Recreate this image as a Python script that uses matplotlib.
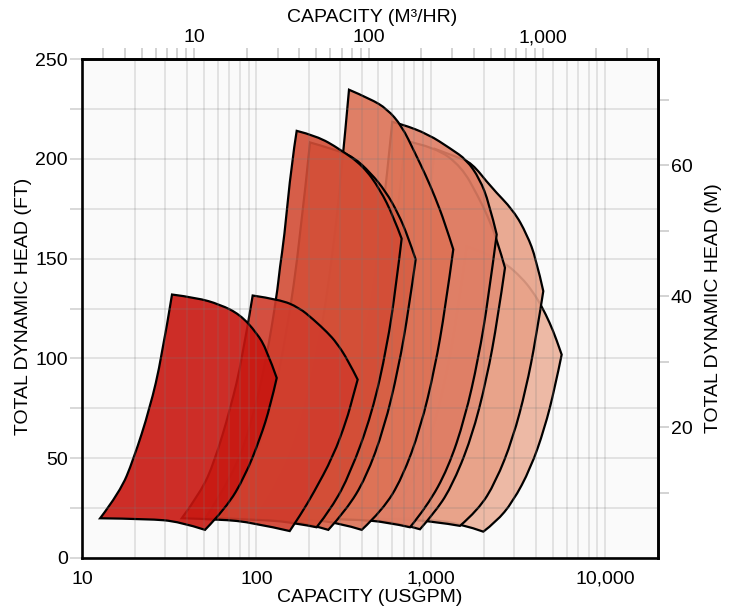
import matplotlib
matplotlib.use("Agg")
import numpy as np
import matplotlib.pyplot as plt
from matplotlib.path import Path
from matplotlib.patches import PathPatch
from matplotlib.colors import to_rgba
from matplotlib.ticker import FixedLocator, NullFormatter, FuncFormatter

plt.rcParams['font.family'] = ['Liberation Sans', 'DejaVu Sans']
plt.rcParams['font.size'] = 14

GPM_PER_M3H = 4.403
FT_PER_M = 3.2808

# Pump envelopes, (USGPM, ft), traced from the bottom-left
# corner: left edge up, top edge across, right edge down, bottom edge back.
# envN_c holds the index of the four corners (bottom-left, top-left, right, bottom-right).
env1_q = [12.7, 16.5, 19.7, 24.5, 28.6, 32.8, 45.4, 61.8, 80.4, 100.3, 114.4, 130.6,
          120, 105, 86, 67, 50.7, 36.4, 24]
env1_h = [19.9, 33, 49.2, 75.1, 100.2, 132, 130.4, 127, 122, 112.8, 104.4, 90.2,
          76, 60, 41, 25, 14.1, 18.2, 19.6]
env1_c = [0, 5, 11, 16]

env2_q = [37.3, 48, 57.3, 71, 83, 95.1, 136, 175, 212, 255, 288, 335, 380,
          355, 329, 275, 212, 180, 155, 96, 62]
env2_h = [19.9, 33, 48, 75, 100, 131.5, 129.5, 125.5, 119.5, 113, 107.8, 99, 89.4,
          80, 69.3, 50.9, 32.5, 22, 13.5, 17.7, 19.4]
env2_c = [0, 5, 12, 18]

env3_q = [51, 74, 94, 114, 130.6, 136.4, 143.8, 159, 170, 221, 301, 409, 510, 608, 679,
          630, 560, 460, 345, 270, 221, 170, 110]
env3_h = [20, 42, 68, 100, 131.2, 146.2, 159.6, 198, 214, 211.5, 204.8, 196.4, 184.7, 171.3, 160,
          136, 106, 72.6, 42.5, 25, 15.4, 17.4, 19.3]
env3_c = [0, 8, 14, 20]

env4_q = [62.8, 90, 120, 150, 178, 202.6, 280, 358.6, 450, 550, 650, 740, 817,
          747, 651, 539, 423, 327, 258, 200, 130]
env4_h = [20, 41, 73, 114, 160, 208.2, 204.7, 201, 193, 183.7, 172.5, 160.8, 149.6,
          125, 95, 65, 40, 24, 14.1, 17, 19.2]
env4_c = [0, 5, 12, 18]

env5_q = [99, 140, 185, 232, 271, 305, 339, 450, 560, 680, 809, 930, 1054, 1200, 1342,
          1207, 1052, 870, 683, 529, 401, 300, 200]
env5_h = [20, 40, 70, 110, 150, 190, 234.6, 230, 225, 216.5, 203, 192, 181, 168, 154.6,
          125, 95, 65, 40, 24, 14.1, 17.5, 19.3]
env5_c = [0, 6, 14, 20]

env6_q = [181, 270, 350, 430, 520, 600, 679, 965, 1300, 1600, 1900, 2150, 2380,
          2132, 1870, 1564, 1254, 953, 758, 560, 370]
env6_h = [20, 44, 74, 112, 164, 218.5, 217.4, 212.3, 205, 199.5, 190, 178, 162.1,
          130, 100, 70, 45, 26, 15.4, 18, 19.3]
env6_c = [0, 5, 12, 18]

env7_q = [220, 330, 430, 530, 620, 710, 1054, 1500, 1866, 2121, 2400, 2655,
          2413, 2090, 1707, 1303, 1033, 865, 650, 430]
env7_h = [20, 45, 77, 116, 159, 209, 206, 196, 181, 171, 159, 145.4,
          120, 90, 60, 35, 22, 14.4, 17.5, 19.3]
env7_c = [0, 5, 11, 17]

env8_q = [328, 490, 640, 800, 930, 1050, 1400, 1711, 2200, 2980, 3550, 4000, 4402,
          3993, 3510, 2949, 2347, 1865, 1466, 1050, 650]
env8_h = [20, 44.6, 76, 119, 161, 205, 201, 198, 186, 174, 162, 150, 133.7,
          110, 85, 60, 38, 24, 16.1, 18.3, 19.5]
env8_c = [0, 5, 12, 18]

env9_q = [573, 800, 1000, 1200, 1400, 1600, 2200, 2716, 3300, 3800, 4305, 4800, 5200, 5610,
          5122, 4479, 3727, 2940, 2357, 1994, 1500, 1000]
env9_h = [20, 39, 61, 87.8, 119.6, 156.2, 151.9, 147.1, 140.5, 133.9, 126.2, 117.7, 110.2, 101.9,
          85, 65, 45, 28, 18, 13.2, 17, 19.3]
env9_c = [0, 5, 13, 19]

envelopes = [(env1_q, env1_h, env1_c), (env2_q, env2_h, env2_c), (env3_q, env3_h, env3_c),
             (env4_q, env4_h, env4_c), (env5_q, env5_h, env5_c), (env6_q, env6_h, env6_c),
             (env7_q, env7_h, env7_c), (env8_q, env8_h, env8_c), (env9_q, env9_h, env9_c)]
colors = ['#c81610', '#d03c2c', '#d34d36', '#d75e44', '#dd7256',
          '#df7d64', '#e38f76', '#e8a188', '#ecb29c']

bottom_ticks = [10, 100, 1000, 10000]
top_ticks = [10, 100, 1000]
top_minor = [3, 4, 5, 6, 7, 8, 9, 20, 30, 40, 50, 60, 70, 80, 90,
             200, 300, 400, 500, 600, 700, 800, 900, 2000, 3000, 4000]
left_ticks = [0, 50, 100, 150, 200, 250]
left_minor = [25, 75, 125, 175, 225]
right_ticks = [20, 40, 60]
right_minor = [10, 30, 50, 70]


def envelope_path(q, h, corners):
    # smooth each edge between corners (read points act as spline controls),
    # corners stay sharp; work in log-capacity so it matches the log axis
    u = np.log10(q)
    n = len(q)
    pts = list(zip(u, h))
    verts = [pts[0]]
    codes = [Path.MOVETO]
    bounds = corners + [n]
    for a, b in zip(bounds[:-1], bounds[1:]):
        edge = [pts[i % n] for i in range(a, b + 1)]
        ctrl = edge[1:-1]
        if not ctrl:
            verts.append(edge[-1])
            codes.append(Path.LINETO)
            continue
        for j, c in enumerate(ctrl):
            if j < len(ctrl) - 1:
                nxt = ctrl[j + 1]
                end = ((c[0] + nxt[0]) / 2, (c[1] + nxt[1]) / 2)
            else:
                end = edge[-1]
            verts += [c, end]
            codes += [Path.CURVE3, Path.CURVE3]
    verts.append(pts[0])
    codes.append(Path.CLOSEPOLY)
    verts = [(10 ** x, y) for x, y in verts]
    return Path(verts, codes)


fig = plt.figure(figsize=(7.35, 6.15), dpi=100)
ax = fig.add_axes([82 / 735, 1 - 558 / 615, 576 / 735, 499 / 615])
ax.set_facecolor('#fafafa')
ax.set_xscale('log')
ax.set_xlim(10, 20000)
ax.set_ylim(0, 250)

# smaller (darker) envelopes sit on top of the larger ones
for i, ((q, h, c), col) in enumerate(zip(envelopes, colors)):
    patch = PathPatch(envelope_path(q, h, c), facecolor=to_rgba(col, 0.9),
                      edgecolor='black', linewidth=1.6, zorder=2 - i * 0.1)
    ax.add_patch(patch)

comma = FuncFormatter(lambda v, p: f'{int(round(v)):,}')

ax.xaxis.set_major_locator(FixedLocator(bottom_ticks))
ax.xaxis.set_major_formatter(comma)
ax.xaxis.set_minor_formatter(NullFormatter())
ax.yaxis.set_major_locator(FixedLocator(left_ticks))
ax.yaxis.set_minor_locator(FixedLocator(left_minor))

ax.set_axisbelow(False)
ax.grid(True, which='both', color='#787878', alpha=0.22, linewidth=1.2)
ax.tick_params(axis='x', which='both', length=0, pad=9, labelsize=14)
ax.tick_params(axis='y', which='both', length=9, width=1.3, color='#d6d6d6',
               pad=1, labelsize=14)

for s in ax.spines.values():
    s.set_linewidth(1.9)
    s.set_zorder(5)

top = ax.secondary_xaxis('top', functions=(lambda q: q / GPM_PER_M3H,
                                           lambda m: m * GPM_PER_M3H))
top.xaxis.set_major_locator(FixedLocator(top_ticks))
top.xaxis.set_minor_locator(FixedLocator(top_minor))
top.xaxis.set_major_formatter(comma)
top.xaxis.set_minor_formatter(NullFormatter())
top.tick_params(which='both', length=8, width=1.2, color='#cccccc', pad=1, labelsize=14)
top.spines['top'].set_linewidth(1.9)

right = ax.secondary_yaxis('right', functions=(lambda f: f / FT_PER_M,
                                               lambda m: m * FT_PER_M))
right.yaxis.set_major_locator(FixedLocator(right_ticks))
right.yaxis.set_minor_locator(FixedLocator(right_minor))
right.yaxis.set_minor_formatter(NullFormatter())
right.tick_params(which='both', length=8, width=1.2, color='#cccccc', pad=1, labelsize=14)
right.spines['right'].set_linewidth(1.9)

fig.text(370 / 735, 1 - 598 / 615, 'CAPACITY (USGPM)', ha='center', va='center', fontsize=14)
fig.text(372 / 735, 1 - 17 / 615, 'CAPACITY (M³/HR)', ha='center', va='center', fontsize=14)
fig.text(24 / 735, 1 - 306 / 615, 'TOTAL DYNAMIC HEAD (FT)', rotation=90,
         ha='center', va='center', fontsize=14)
fig.text(713 / 735, 1 - 308 / 615, 'TOTAL DYNAMIC HEAD (M)', rotation=90,
         ha='center', va='center', fontsize=14)

fig.savefig('out.png', dpi=100)
